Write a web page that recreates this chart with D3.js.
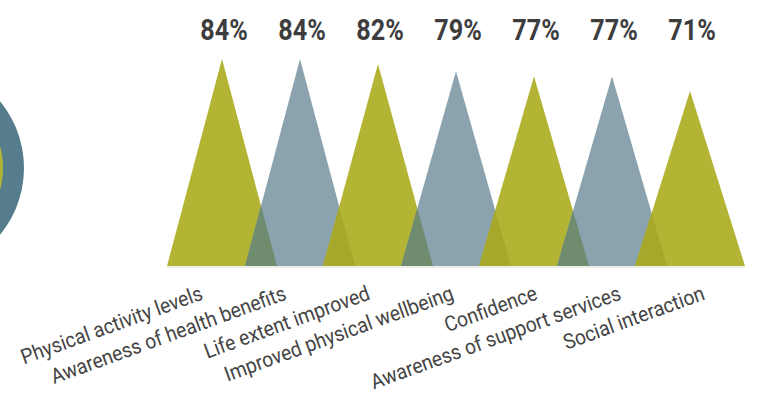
<!DOCTYPE html>
<html>
<head>
<meta charset="utf-8">
<script src="https://cdn.jsdelivr.net/npm/d3@7"></script>
<style>
  html, body { margin: 0; padding: 0; background: #fff; overflow: hidden; }
  .pct { font-family: Roboto, "Liberation Sans", sans-serif; font-weight: bold; font-size: 30px; fill: #3d3d3d; }
  .cat { font-family: Roboto, "Liberation Sans", sans-serif; font-size: 21px; fill: #444; }
</style>
</head>
<body>
<div id="chart"></div>
<script>
const categories = [
  'Physical activity levels',
  'Awareness of health benefits',
  'Life extent improved',
  'Improved physical wellbeing',
  'Confidence',
  'Awareness of support services',
  'Social interaction'
];
const values = [84, 84, 82, 79, 77, 77, 71];
const colorKeys = ['olive', 'blue', 'olive', 'blue', 'olive', 'blue', 'olive'];

const palette = { olive: '#b3b434', blue: '#8ba3ae' };
// overlap colours, keyed by left+right triangle
const overlapColors = { oliveblue: '#6f8c6e', blueolive: '#a6a82c' };

const width = 757, height = 401;
const baseY = 266, halfBase = 55;

const svg = d3.select('#chart').append('svg')
  .attr('width', width)
  .attr('height', height);

// donut piece cut off on the left
const donut = svg.append('g').attr('transform', 'translate(-81,168)');
donut.append('circle').attr('r', 105).attr('fill', '#567d8c');
donut.append('circle').attr('r', 84).attr('fill', '#b3b434');

const x = d3.scalePoint().domain(categories).range([222, 690]);
const xLabel = d3.scalePoint().domain(categories).range([204, 706]);
const y = d3.scaleLinear().domain([0, 100]).range([baseY, baseY - 246.4]);

const data = categories.map((c, i) => ({ cat: c, value: values[i], key: colorKeys[i] }));

// faint base line
svg.append('line')
  .attr('x1', x(categories[0]) - halfBase).attr('x2', x(categories[categories.length - 1]) + halfBase)
  .attr('y1', baseY + 1).attr('y2', baseY + 1)
  .attr('stroke', '#e8e8e2').attr('stroke-width', 1.5);

svg.selectAll('path.tri')
  .data(data)
  .join('path')
  .attr('class', 'tri')
  .attr('d', d => {
    const cx = x(d.cat);
    return `M${cx - halfBase},${baseY}L${cx},${y(d.value)}L${cx + halfBase},${baseY}Z`;
  })
  .attr('fill', d => palette[d.key]);

// overlap triangles between neighbours
const pairs = d3.pairs(data);
svg.selectAll('path.overlap')
  .data(pairs)
  .join('path')
  .attr('class', 'overlap')
  .attr('d', ([a, b]) => {
    const ax = x(a.cat), ay = y(a.value);
    const bx = x(b.cat), by = y(b.value);
    const sa = (baseY - ay) / halfBase;   // a's right edge going down
    const sb = (by - baseY) / halfBase;   // b's left edge going up
    const px = (baseY - sb * (bx - halfBase) - ay + sa * ax) / (sa - sb);
    const py = ay + sa * (px - ax);
    return `M${bx - halfBase},${baseY}L${px},${py}L${ax + halfBase},${baseY}Z`;
  })
  .attr('fill', ([a, b]) => overlapColors[a.key + b.key]);

svg.selectAll('text.pct')
  .data(data)
  .join('text')
  .attr('class', 'pct')
  .attr('text-anchor', 'middle')
  .attr('transform', d => `translate(${x(d.cat) + 2},40) scale(0.84,1)`)
  .text(d => d.value + '%');

svg.selectAll('text.cat')
  .data(data)
  .join('text')
  .attr('class', 'cat')
  .attr('text-anchor', 'end')
  .attr('transform', d => `translate(${xLabel(d.cat)},299) rotate(-20) scale(0.92,1)`)
  .text(d => d.cat);
</script>
</body>
</html>
